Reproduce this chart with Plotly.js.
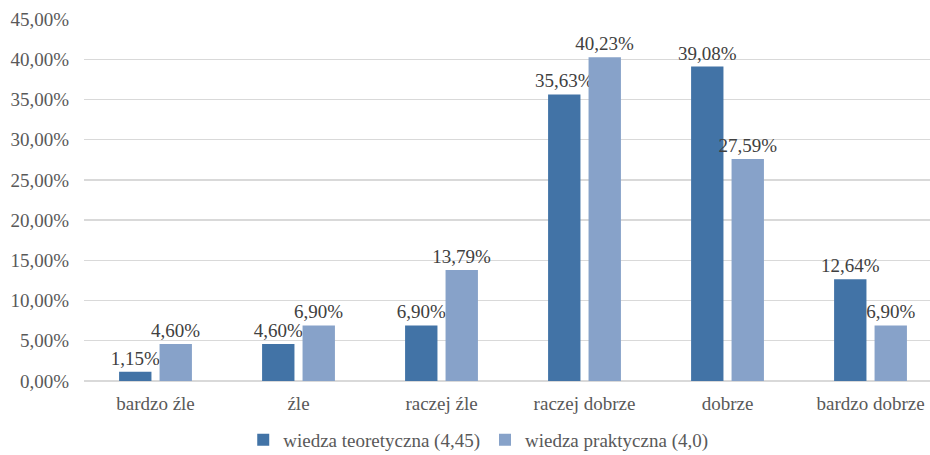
<!DOCTYPE html>
<html>
<head>
<meta charset="utf-8">
<script src="https://cdn.plot.ly/plotly-3.0.1.min.js"></script>
<style>
  html, body { margin: 0; padding: 0; background: #ffffff; }
  #chart { width: 930px; height: 455px; }
</style>
</head>
<body>
<div id="chart"></div>
<script>
// Ratings of knowledge, share of respondents (%)
const categories = ['bardzo źle', 'źle', 'raczej źle', 'raczej dobrze', 'dobrze', 'bardzo dobrze'];
const theoryName = 'wiedza teoretyczna (4,45)';
const practiceName = 'wiedza praktyczna (4,0)';
const theoryValues = [1.15, 4.60, 6.90, 35.63, 39.08, 12.64];
const practiceValues = [4.60, 6.90, 13.79, 40.23, 27.59, 6.90];
const yTicks = [0, 5, 10, 15, 20, 25, 30, 35, 40, 45];

// Polish number format: decimal comma, two decimals, percent sign
const fmt = v => v.toFixed(2).replace('.', ',') + '%';

const FONT = '"Liberation Serif", "Times New Roman", serif';
const labelFont = { family: FONT, size: 19, color: '#404040' };

function barTrace(name, values, color) {
  return {
    type: 'bar',
    name: name,
    x: categories,
    y: values,
    text: values.map(fmt),
    textposition: 'outside',
    textfont: labelFont,
    constraintext: 'none',
    cliponaxis: false,
    marker: { color: color, line: { width: 0 } },
    hoverinfo: 'skip'
  };
}

const data = [
  barTrace(theoryName, theoryValues, '#4273a6'),
  barTrace(practiceName, practiceValues, '#87a2c9')
];

const layout = {
  width: 930,
  height: 455,
  // fixed margins so the legend below does not shrink the plot area
  margin: { l: 84, r: 0, t: 19, b: 74, autoexpand: false },
  paper_bgcolor: '#ffffff',
  plot_bgcolor: '#ffffff',
  font: { family: FONT, size: 19, color: '#595959' },
  barmode: 'group',
  bargap: 0.434,
  bargroupgap: 0.2,
  showlegend: true,
  legend: {
    orientation: 'h',
    x: 0.466,
    xanchor: 'center',
    y: -0.163,
    yanchor: 'middle',
    font: { family: FONT, size: 19, color: '#595959' },
    itemwidth: 30,
    traceorder: 'normal'
  },
  xaxis: {
    type: 'category',
    range: [-0.5, 5.416],
    showgrid: false,
    zeroline: false,
    showline: false,
    ticks: '',
    ticklabelstandoff: 9,
    tickfont: { family: FONT, size: 19, color: '#595959' }
  },
  yaxis: {
    range: [0, 45],
    tickvals: yTicks,
    ticktext: yTicks.map(fmt),
    showgrid: true,
    gridcolor: '#d9d9d9',
    gridwidth: 1.3,
    zeroline: true,
    zerolinecolor: '#d9d9d9',
    zerolinewidth: 1.3,
    showline: false,
    ticks: '',
    ticklabelstandoff: 14,
    tickfont: { family: FONT, size: 19, color: '#595959' }
  }
};

Plotly.newPlot('chart', data, layout, { displayModeBar: false, staticPlot: true });
</script>
</body>
</html>
